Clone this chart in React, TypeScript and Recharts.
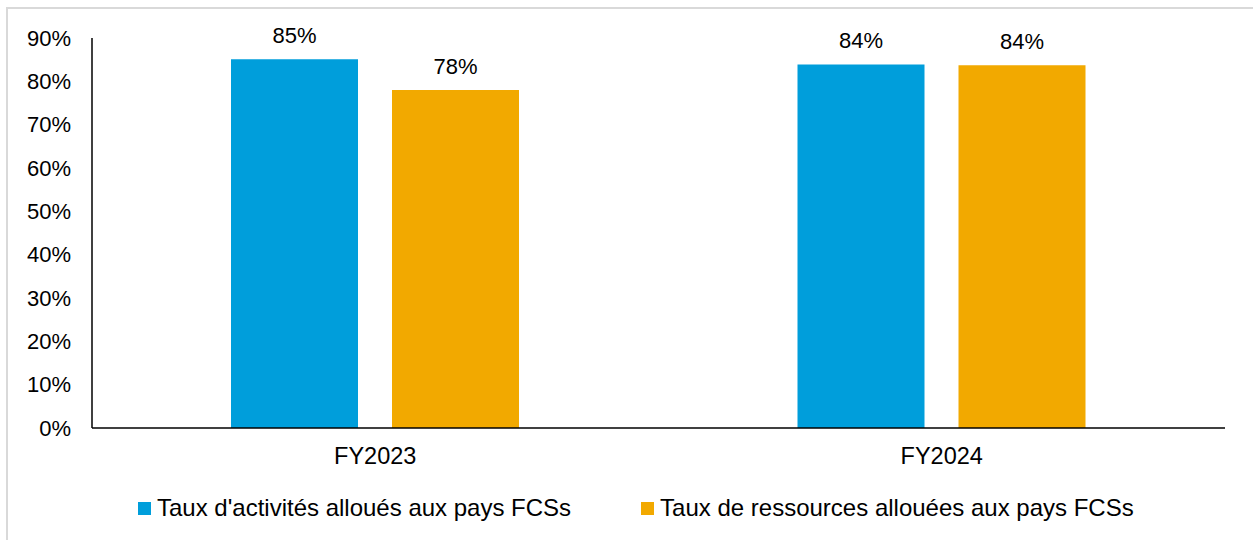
import { BarChart, Bar, XAxis, YAxis, LabelList } from 'recharts';

const YEARS = ['FY2023', 'FY2024'];
const ACTIVITES = [0.851, 0.839];
const RESSOURCES = [0.78, 0.837];
const Y_TICKS = [0, 0.1, 0.2, 0.3, 0.4, 0.5, 0.6, 0.7, 0.8, 0.9];

const SERIES = [
  { key: 'activites', label: "Taux d'activités alloués aux pays FCSs", color: '#009EDB' },
  { key: 'ressources', label: 'Taux de ressources allouées aux pays FCSs', color: '#F2A900' },
];

const FONT = '"Liberation Sans", Arial, sans-serif';
const pct = (v: number) => `${Math.round(v * 100)}%`;

export default function App() {
  const data = YEARS.map((year, i) => ({
    year,
    activites: ACTIVITES[i],
    ressources: RESSOURCES[i],
  }));

  return (
    <>
      {/* light frame, only top and left edges show in the picture */}
      <div
        style={{
          position: 'absolute',
          left: 6,
          top: 7,
          width: 1247,
          height: 533,
          boxSizing: 'border-box',
          borderLeft: '2px solid #d9d9d9',
          borderTop: '2px solid #d9d9d9',
          background: '#fff',
        }}
      />
      <div style={{ position: 'absolute', left: 0, top: 0, width: 1253, height: 540, fontFamily: FONT }}>
        <BarChart
          width={1253}
          height={540}
          data={data}
          margin={{ top: 38, right: 28, bottom: 82, left: 12 }}
          barSize={127}
          barGap={34}
        >
          <XAxis
            dataKey="year"
            height={30}
            axisLine={{ stroke: '#000', strokeWidth: 1.5 }}
            tickLine={false}
            tickSize={0}
            tickMargin={19}
            tick={{ fill: '#000', fontSize: 23.5, fontFamily: FONT }}
          />
          <YAxis
            width={80}
            domain={[0, 0.9]}
            ticks={Y_TICKS}
            tickFormatter={pct}
            axisLine={{ stroke: '#000', strokeWidth: 1.5 }}
            tickLine={false}
            tickSize={0}
            tickMargin={21}
            tick={{ fill: '#000', fontSize: 22, fontFamily: FONT }}
          />
          {SERIES.map((s) => (
            <Bar key={s.key} dataKey={s.key} fill={s.color} isAnimationActive={false}>
              <LabelList
                dataKey={s.key}
                position="top"
                offset={16}
                formatter={(v: number) => pct(v)}
                style={{ fill: '#000', fontSize: 22, fontFamily: FONT }}
              />
            </Bar>
          ))}
        </BarChart>
      </div>
      {/* legend */}
      <div
        style={{
          position: 'absolute',
          left: 138,
          top: 496,
          display: 'flex',
          alignItems: 'center',
          gap: 70,
          fontFamily: FONT,
          fontSize: 24,
          lineHeight: 1,
          color: '#000',
          whiteSpace: 'nowrap',
        }}
      >
        {SERIES.map((s) => (
          <div key={s.key} style={{ display: 'flex', alignItems: 'center' }}>
            <span style={{ width: 13, height: 13, background: s.color, marginRight: 6, display: 'inline-block' }} />
            <span>{s.label}</span>
          </div>
        ))}
      </div>
    </>
  );
}
